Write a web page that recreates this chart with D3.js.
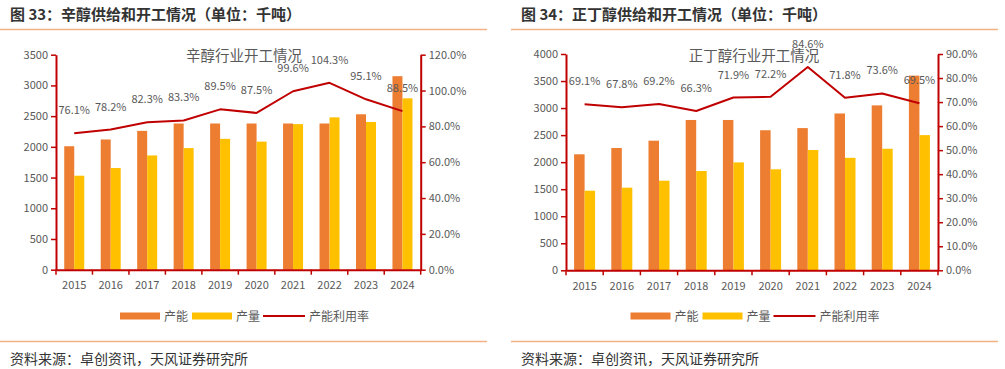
<!DOCTYPE html>
<html>
<head>
<meta charset="utf-8">
<script src="https://cdn.jsdelivr.net/npm/d3@7"></script>
<style>
  html, body { margin: 0; padding: 0; background: #fff; }
  svg { display: block; font-family: "Noto Sans CJK SC", "Noto Sans", sans-serif; }
</style>
</head>
<body>
<svg id="chart" width="1005" height="369"></svg>
<script>
// ---------- data ----------
const years = ["2015", "2016", "2017", "2018", "2019", "2020", "2021", "2022", "2023", "2024"];

const octanolCapacity = [2010, 2120, 2260, 2380, 2380, 2380, 2380, 2380, 2530, 3150];
const octanolOutput   = [1530, 1655, 1860, 1980, 2130, 2085, 2370, 2480, 2405, 2790];
const octanolRate     = [76.1, 78.2, 82.3, 83.3, 89.5, 87.5, 99.6, 104.3, 95.1, 88.5];

const butanolCapacity = [2145, 2262, 2397, 2780, 2780, 2590, 2630, 2900, 3050, 3600];
const butanolOutput   = [1472, 1528, 1657, 1836, 1995, 1868, 2225, 2080, 2248, 2500];
const butanolRate     = [69.1, 67.8, 69.2, 66.3, 71.9, 72.2, 84.6, 71.8, 73.6, 69.5];

const octanolLeftTicks  = [0, 500, 1000, 1500, 2000, 2500, 3000, 3500];
const octanolRightTicks = [0, 20, 40, 60, 80, 100, 120];
const butanolLeftTicks  = [0, 500, 1000, 1500, 2000, 2500, 3000, 3500, 4000];
const butanolRightTicks = [0, 10, 20, 30, 40, 50, 60, 70, 80, 90];

const seriesNames = ["产能", "产量", "产能利用率"];
const figureTitles = ["图 33：辛醇供给和开工情况（单位：千吨）", "图 34：正丁醇供给和开工情况（单位：千吨）"];
const chartTitles = ["辛醇行业开工情况", "正丁醇行业开工情况"];
const sourceText = "资料来源：卓创资讯，天风证券研究所";

// ---------- style ----------
const C_CAP = "#ED7D31", C_OUT = "#FFC000", C_LINE = "#C00000", C_AXIS = "#C00000";
const C_TEXT = "#595959", C_RULE = "#F4B183", C_TITLE = "#333333";

const svg = d3.select("#chart");

function drawPanel(cfg) {
  const g = svg.append("g");
  // header
  g.append("text").attr("x", cfg.px + 10).attr("y", 20)
    .attr("font-size", 15).attr("font-weight", "bold").attr("fill", C_TITLE)
    .text(cfg.figTitle);
  g.append("line").attr("x1", cfg.ruleX0).attr("x2", cfg.ruleX1).attr("y1", 29.5).attr("y2", 29.5)
    .attr("stroke", C_RULE).attr("stroke-width", 1.6);
  g.append("line").attr("x1", cfg.ruleX0).attr("x2", cfg.ruleX1).attr("y1", 341.5).attr("y2", 341.5)
    .attr("stroke", C_RULE).attr("stroke-width", 1.6);
  g.append("text").attr("x", cfg.px + 10).attr("y", 364)
    .attr("font-size", 14).attr("fill", C_TITLE).text(sourceText);

  const x = d3.scaleBand().domain(years).range([cfg.x0, cfg.x1]).paddingInner(0).paddingOuter(0);
  const yL = d3.scaleLinear().domain([0, cfg.leftMax]).range([cfg.yB, cfg.yT]);
  const yR = d3.scaleLinear().domain([0, cfg.rightMax]).range([cfg.yB, cfg.yT]);
  const bw = cfg.barW;

  // inner chart title
  g.append("text").attr("x", cfg.titleX).attr("y", 61).attr("text-anchor", "middle")
    .attr("font-size", 14.5).attr("fill", C_TEXT).text(cfg.chartTitle);

  // bars
  g.append("g").selectAll("rect").data(cfg.cap).join("rect")
    .attr("x", (d, i) => x(years[i]) + x.bandwidth() / 2 - bw)
    .attr("width", bw)
    .attr("y", d => yL(d)).attr("height", d => yL(0) - yL(d))
    .attr("fill", C_CAP);
  g.append("g").selectAll("rect").data(cfg.out).join("rect")
    .attr("x", (d, i) => x(years[i]) + x.bandwidth() / 2)
    .attr("width", bw)
    .attr("y", d => yL(d)).attr("height", d => yL(0) - yL(d))
    .attr("fill", C_OUT);

  // line
  const line = d3.line().x((d, i) => x(years[i]) + x.bandwidth() / 2).y(d => yR(d));
  g.append("path").datum(cfg.rate).attr("d", line)
    .attr("fill", "none").attr("stroke", C_LINE).attr("stroke-width", 2).attr("stroke-linejoin", "round");
  g.append("g").selectAll("text").data(cfg.rate).join("text")
    .attr("x", (d, i) => x(years[i]) + x.bandwidth() / 2)
    .attr("y", d => yR(d) - 19)
    .attr("text-anchor", "middle").attr("font-size", 11).attr("fill", C_TEXT)
    .text(d => d.toFixed(1) + "%");

  // left axis
  const aL = g.append("g").attr("transform", `translate(${cfg.x0},0)`)
    .call(d3.axisLeft(yL).tickValues(cfg.leftTicks).tickSize(5).tickSizeOuter(0).tickPadding(3).tickFormat(d3.format("d")));
  // right axis
  const aR = g.append("g").attr("transform", `translate(${cfg.x1},0)`)
    .call(d3.axisRight(yR).tickValues(cfg.rightTicks).tickSize(5).tickSizeOuter(0).tickPadding(3).tickFormat(d => d.toFixed(1) + "%"));
  // bottom axis
  const aB = g.append("g").attr("transform", `translate(0,${cfg.yB})`)
    .call(d3.axisBottom(x).tickSize(0).tickPadding(12));
  const bounds = years.map(y => x(y)).concat([cfg.x1]);
  aB.append("g").selectAll("line").data(bounds).join("line")
    .attr("x1", d => d).attr("x2", d => d).attr("y1", 0).attr("y2", 5)
    .attr("stroke", C_AXIS).attr("stroke-width", 1.5);

  [aL, aR, aB].forEach(a => {
    a.select(".domain").attr("stroke", C_AXIS).attr("stroke-width", 2);
    a.selectAll(".tick line").attr("stroke", C_AXIS).attr("stroke-width", 1.5);
    a.selectAll(".tick text").attr("fill", C_TEXT).attr("font-size", 11)
      .attr("font-family", "'Noto Sans CJK SC', 'Noto Sans', sans-serif");
  });

  // legend
  const ly = 316;
  const lg = g.append("g").attr("font-size", 12).attr("fill", C_TEXT);
  lg.append("rect").attr("x", cfg.legX).attr("y", ly - 3.5).attr("width", 40).attr("height", 7).attr("fill", C_CAP);
  lg.append("text").attr("x", cfg.legX + 44).attr("y", ly + 4.5).text(seriesNames[0]);
  lg.append("rect").attr("x", cfg.legX + 72).attr("y", ly - 3.5).attr("width", 40).attr("height", 7).attr("fill", C_OUT);
  lg.append("text").attr("x", cfg.legX + 116).attr("y", ly + 4.5).text(seriesNames[1]);
  lg.append("line").attr("x1", cfg.legX + 143).attr("x2", cfg.legX + 185).attr("y1", ly).attr("y2", ly)
    .attr("stroke", C_LINE).attr("stroke-width", 2);
  lg.append("text").attr("x", cfg.legX + 189).attr("y", ly + 4.5).text(seriesNames[2]);
}

drawPanel({
  px: 0, ruleX0: 0, ruleX1: 487,
  figTitle: figureTitles[0], chartTitle: chartTitles[0], titleX: 244,
  x0: 56, x1: 420.7, yT: 54.7, yB: 269.7,
  leftMax: 3500, rightMax: 120, leftTicks: octanolLeftTicks, rightTicks: octanolRightTicks,
  cap: octanolCapacity, out: octanolOutput, rate: octanolRate, barW: 10,
  legX: 120
});
drawPanel({
  px: 511, ruleX0: 511, ruleX1: 998,
  figTitle: figureTitles[1], chartTitle: chartTitles[1], titleX: 754,
  x0: 566, x1: 938, yT: 54, yB: 270.3,
  leftMax: 4000, rightMax: 90, leftTicks: butanolLeftTicks, rightTicks: butanolRightTicks,
  cap: butanolCapacity, out: butanolOutput, rate: butanolRate, barW: 10.5,
  legX: 630.5
});
</script>
</body>
</html>
